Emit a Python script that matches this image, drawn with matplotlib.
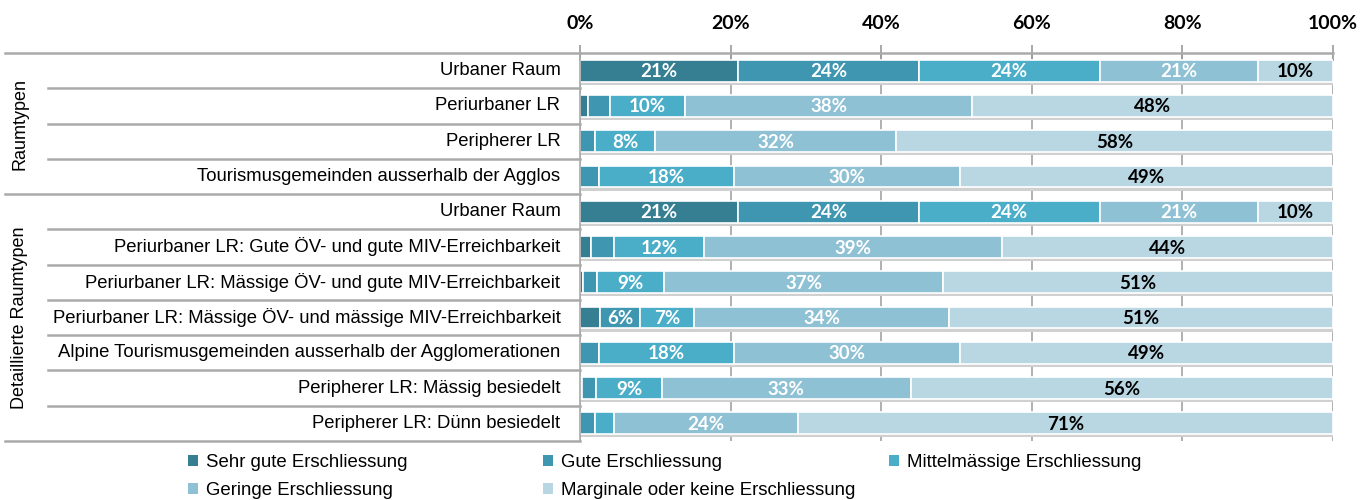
import numpy as np
import matplotlib.pyplot as plt
from matplotlib.patches import Patch
import matplotlib.transforms as mtransforms

# Categories (top to bottom)
rows = [
    "Urbaner Raum",
    "Periurbaner LR",
    "Peripherer LR",
    "Tourismusgemeinden ausserhalb der Agglos",
    "Urbaner Raum",
    "Periurbaner LR: Gute ÖV- und gute MIV-Erreichbarkeit",
    "Periurbaner LR: Mässige ÖV- und gute MIV-Erreichbarkeit",
    "Periurbaner LR: Mässige ÖV- und mässige MIV-Erreichbarkeit",
    "Alpine Tourismusgemeinden ausserhalb der Agglomerationen",
    "Peripherer LR: Mässig besiedelt",
    "Peripherer LR: Dünn besiedelt",
]
groups = ["Raumtypen", "Detaillierte Raumtypen"]
group_sizes = [4, 7]

series = [
    "Sehr gute Erschliessung",
    "Gute Erschliessung",
    "Mittelmässige Erschliessung",
    "Geringe Erschliessung",
    "Marginale oder keine Erschliessung",
]

# shares in percent
sehr_gut   = [21, 1.0, 0.0, 0.0, 21, 1.5, 0.4, 2.6, 0.0, 0.3, 0.0]
gut        = [24, 3.0, 2.0, 2.5, 24, 3.0, 1.8, 5.4, 2.5, 1.8, 2.0]
mittel     = [24, 10, 8, 18, 24, 12, 9, 7.2, 18, 8.8, 2.5]
gering     = [21, 38, 32, 30, 21, 39.5, 37, 33.8, 30, 33, 24.5]
marginal   = [10, 48, 58, 49.5, 10, 44, 51.8, 51, 49.5, 56.1, 71]

# printed labels (small segments carry no label)
lab_sehr_gut = ["21%", "", "", "", "21%", "", "", "", "", "", ""]
lab_gut      = ["24%", "", "", "", "24%", "", "", "6%", "", "", ""]
lab_mittel   = ["24%", "10%", "8%", "18%", "24%", "12%", "9%", "7%", "18%", "9%", ""]
lab_gering   = ["21%", "38%", "32%", "30%", "21%", "39%", "37%", "34%", "30%", "33%", "24%"]
lab_marginal = ["10%", "48%", "58%", "49%", "10%", "44%", "51%", "51%", "49%", "56%", "71%"]

colors = ["#367f93", "#3f96b0", "#4aaec8", "#8fc1d4", "#b9d7e3"]
text_colors = ["white", "white", "white", "white", "black"]

values = [sehr_gut, gut, mittel, gering, marginal]
labels = [lab_sehr_gut, lab_gut, lab_mittel, lab_gering, lab_marginal]

label_font = ["Liberation Sans", "DejaVu Sans"]
num_font = ["Lato", "DejaVu Sans"]

fig = plt.figure(figsize=(13.7, 5), dpi=100)
ax = fig.add_axes([580 / 1370, 1 - 441 / 500, (1333 - 580) / 1370, (441 - 53) / 500])

n = len(rows)
y = np.arange(n)
left = np.zeros(n)
bh = 0.62

# soft shadow below the bars
total = np.sum(values, axis=0)
ax.barh(y + 0.09, total + 0.25, left=0.15, height=bh, color="#d0d0d0", zorder=1)

for vals, labs, col, tcol in zip(values, labels, colors, text_colors):
    vals = np.array(vals, dtype=float)
    ax.barh(y, vals, left=left, height=bh, color=col, edgecolor="white",
            linewidth=1.2, zorder=2)
    for i in range(n):
        if labs[i]:
            ax.text(left[i] + vals[i] / 2, y[i] + 0.03, labs[i], ha="center", va="center",
                    color=tcol, fontsize=13.5, fontweight="bold", family=num_font, zorder=3)
    left += vals

ax.set_xlim(0, 100)
ax.set_ylim(n - 0.5, -0.5)
ax.xaxis.tick_top()
ax.set_xticks(np.arange(0, 101, 20))
ax.set_xticklabels([f"{t}%" for t in range(0, 101, 20)], fontsize=14,
                   fontweight="bold", family=num_font)
ax.tick_params(axis="x", direction="inout", length=12, width=1.2, color="#999999", pad=9)
ax.set_yticks([])
ax.grid(axis="x", color="#aaaaaa", linewidth=1.3, zorder=0)
ax.set_axisbelow(True)
for s in ["right", "bottom"]:
    ax.spines[s].set_visible(False)
ax.spines["top"].set_color("#aaaaaa")
ax.spines["top"].set_linewidth(1.8)
ax.spines["left"].set_color("#aaaaaa")
ax.spines["left"].set_linewidth(1.2)

# row labels
for i, r in enumerate(rows):
    ax.text(-2.6, i, r, ha="right", va="center", fontsize=13.3, family=label_font,
            transform=ax.transData, clip_on=False)

# separator lines in the label area
trans = mtransforms.blended_transform_factory(fig.transFigure, ax.transData)
x_axis = 580 / 1370
starts = np.cumsum([0] + group_sizes)
for i in range(n + 1):
    yy = i - 0.5
    x0 = 5 / 1370 if i in starts else 48 / 1370
    ax.plot([x0, x_axis], [yy, yy], transform=trans, color="#aaaaaa",
            linewidth=1.8, clip_on=False)

# group labels
for g, a, b in zip(groups, starts[:-1], starts[1:]):
    ax.text(20 / 1370, (a + b - 1) / 2, g, rotation=90, ha="center", va="center",
            fontsize=13, family=label_font, transform=trans)

# legend, laid out row-wise like the original
handles = [Patch(facecolor=c, edgecolor="none") for c in colors]
cols = [[0, 3], [1, 4], [2]]
xpos = [188, 543, 889]
for c, xp in zip(cols, xpos):
    fig.legend([handles[k] for k in c], [series[k] for k in c], loc="upper left",
               bbox_to_anchor=(xp / 1370, 1 - 454 / 500), frameon=False,
               handlelength=0.55, handleheight=0.55, handletextpad=0.4,
               labelspacing=0.6, borderpad=0, borderaxespad=0,
               prop={"family": label_font, "size": 13.4})

fig.savefig("out.png", dpi=100)
